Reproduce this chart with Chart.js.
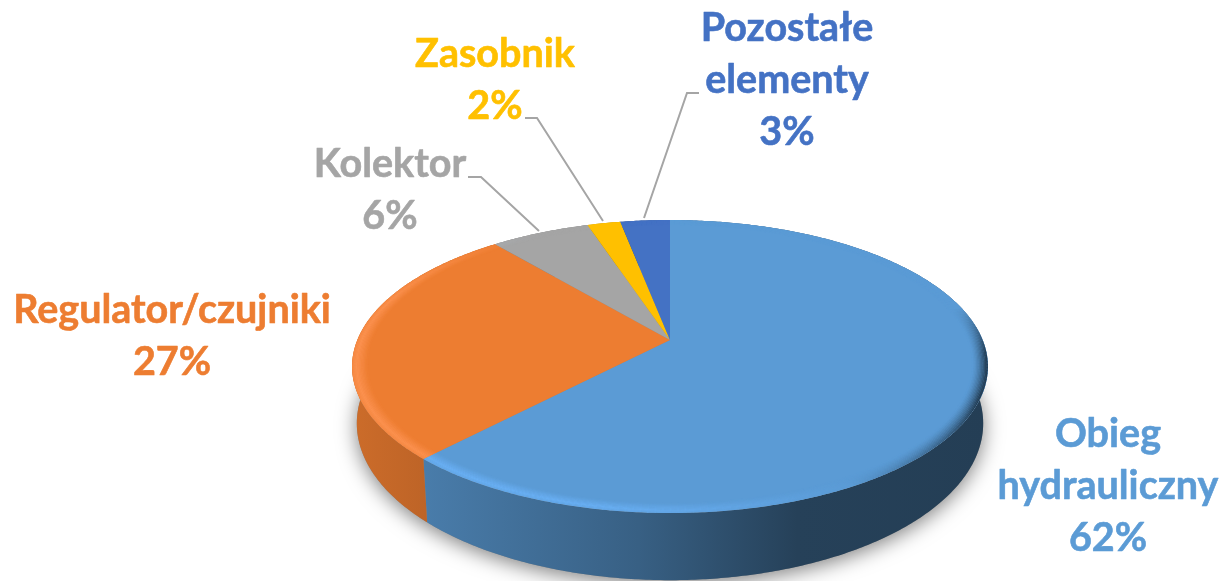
<!DOCTYPE html>
<html lang="pl">
<head>
  <meta charset="UTF-8">
  <title>Udział elementów</title>
  <script src="https://cdn.jsdelivr.net/npm/chart.js"></script>
  <style>
    html, body { margin: 0; padding: 0; background: #fff; }
    canvas { display: block; }
  </style>
</head>
<body>
  <canvas id="pie" width="1222" height="581"></canvas>
  <script>
    const categories = ['Obieg hydrauliczny', 'Regulator/czujniki', 'Kolektor', 'Zasobnik', 'Pozostałe elementy'];
    const shares = [62, 27, 6, 2, 3];
    const colors = ['#5b9bd5', '#ed7d31', '#a5a5a5', '#ffc000', '#4472c4'];
    const labelLines = [
      ['Obieg', 'hydrauliczny'],
      ['Regulator/czujniki'],
      ['Kolektor'],
      ['Zasobnik'],
      ['Pozostałe', 'elementy']
    ];
    // label placement: centre x, baseline of first line
    const labelPos = [[1108, 447], [172, 323], [390, 177], [495, 67], [787, 41]];
    const leaders = [
      null,
      null,
      [[468, 177], [481, 177], [539, 231]],
      [[525, 118], [537, 118], [603, 221]],
      [[699, 93], [687, 93], [644, 218]]
    ];

    // perspective of the tilted disc
    const K = 0.181, RX = 312.7, RY = 141.7, DEPTH = 55;
    const FONT = 'bold 39.5px Lato';
    const LINE = 52;

    function project(arc, a, r, h) {
      const u = r * Math.cos(a), v = r * Math.sin(a);
      const d = 1 - K * v;
      return [
        arc.x + RX * (1 - 0.015 * h) * u / d,
        arc.y + (RY * v + h * DEPTH) / d
      ];
    }

    function rgb(hex) {
      return [1, 3, 5].map(i => parseInt(hex.substr(i, 2), 16));
    }
    function mix(a, b, t) {
      return a.map((c, i) => Math.round(c + (b[i] - c) * t));
    }
    function css(c) { return `rgb(${c[0]},${c[1]},${c[2]})`; }

    function sector(ctx, arc) {
      ctx.beginPath();
      ctx.moveTo(arc.x, arc.y);
      for (let a = arc.startAngle; a < arc.endAngle; a += 0.01) {
        ctx.lineTo(...project(arc, a, 1, 0));
      }
      ctx.lineTo(...project(arc, arc.endAngle, 1, 0));
      ctx.closePath();
    }

    function wall(ctx, arc, from, to) {
      ctx.beginPath();
      for (let a = from; a < to; a += 0.01) ctx.lineTo(...project(arc, a, 1, 0));
      ctx.lineTo(...project(arc, to, 1, 0));
      for (let a = to; a > from; a -= 0.01) ctx.lineTo(...project(arc, a, 1, 1));
      ctx.lineTo(...project(arc, from, 1, 1));
      ctx.closePath();
    }

    const pie3d = {
      id: 'pie3d',
      beforeDatasetDraw(chart) {
        const ctx = chart.ctx;
        const arcs = chart.getDatasetMeta(0).data;
        const c = arcs[0];

        // soft shadow under the disc
        ctx.save();
        ctx.shadowColor = 'rgba(0,0,0,0.5)';
        ctx.shadowBlur = 20;
        ctx.shadowOffsetX = 0;
        ctx.shadowOffsetY = 4;
        ctx.fillStyle = '#888';
        ctx.beginPath();
        for (let a = 0; a < Math.PI * 2; a += 0.02) ctx.lineTo(...project(c, a, 1, 1));
        ctx.closePath();
        ctx.fill();
        ctx.restore();

        // side walls, darker to the right
        arcs.forEach((arc, i) => {
          const base = rgb(colors[i]);
          const g = ctx.createLinearGradient(352, 0, 988, 0);
          [[0, 0.86], [0.115, 0.8], [0.45, 0.62], [0.7, 0.42], [1, 0.4]].forEach(s => {
            g.addColorStop(s[0], css(base.map(v => Math.round(v * s[1]))));
          });
          ctx.fillStyle = g;
          wall(ctx, arc, arc.startAngle, arc.endAngle);
          ctx.fill();
        });

        // top faces
        arcs.forEach((arc, i) => {
          ctx.fillStyle = colors[i];
          sector(ctx, arc);
          ctx.fill();
        });

        // bevel round the rim
        const layers = 12, inner = 0.952;
        arcs.forEach((arc, i) => {
          const base = rgb(colors[i]);
          const light = base.map((v, n) => Math.min(255, v + [14, 20, 30][n]));
          const dark = base.map(v => Math.round(v * 0.4));
          ctx.save();
          sector(ctx, arc);
          ctx.clip();
          for (let a = arc.startAngle; a < arc.endAngle; a += 0.02) {
            const clock = a + Math.PI / 2;
            const l = Math.cos(clock - 4.19);
            const v = Math.sin(a);
            const front = Math.min(1, Math.max(0, (v + 0.25) / 0.35));
            for (let n = 0; n < layers; n++) {
              const t = (n + 0.5) / layers;
              const hiProfile = t < 0.3 ? 0.6 + t / 0.3 * 0.4 : (1 - t) / 0.7;
              const darkProfile = Math.pow(1 - t, 1.5);
              let col = base;
              if (l > 0) col = mix(base, light, Math.min(1, l * 1.5) * hiProfile);
              else col = mix(base, dark, Math.min(1, Math.min(1, -l * 1.6) * darkProfile * front * 1.15));
              const r1 = 1 - (1 - inner) * n / layers;
              const r2 = 1 - (1 - inner) * (n + 1) / layers;
              ctx.fillStyle = css(col);
              ctx.beginPath();
              ctx.moveTo(...project(arc, a - 0.002, r1, 0));
              ctx.lineTo(...project(arc, a + 0.022, r1, 0));
              ctx.lineTo(...project(arc, a + 0.022, r2 - 0.001, 0));
              ctx.lineTo(...project(arc, a - 0.002, r2 - 0.001, 0));
              ctx.closePath();
              ctx.fill();
            }
          }
          ctx.restore();
        });
        return false;
      },
      afterDraw(chart) {
        const ctx = chart.ctx;
        ctx.save();
        ctx.strokeStyle = '#a5a5a5';
        ctx.lineWidth = 2;
        leaders.forEach(p => {
          if (!p) return;
          ctx.beginPath();
          p.forEach(q => ctx.lineTo(q[0], q[1]));
          ctx.stroke();
        });
        ctx.font = FONT;
        ctx.textAlign = 'center';
        ctx.textBaseline = 'alphabetic';
        ctx.lineWidth = 0.6;
        ctx.lineJoin = 'round';
        labelLines.forEach((lines, i) => {
          ctx.fillStyle = colors[i];
          ctx.strokeStyle = colors[i];
          const rows = lines.concat(shares[i] + '%');
          rows.forEach((t, n) => {
            ctx.fillText(t, labelPos[i][0], labelPos[i][1] + n * LINE);
            ctx.strokeText(t, labelPos[i][0], labelPos[i][1] + n * LINE);
          });
        });
        ctx.restore();
      }
    };

    new Chart(document.getElementById('pie'), {
      type: 'pie',
      data: {
        labels: categories,
        datasets: [{ data: shares, backgroundColor: colors, borderWidth: 0 }]
      },
      options: {
        responsive: false,
        animation: false,
        layout: { padding: { left: 118, top: 99 } },
        plugins: { legend: { display: false }, tooltip: { enabled: false } }
      },
      plugins: [pie3d]
    });
  </script>
</body>
</html>
